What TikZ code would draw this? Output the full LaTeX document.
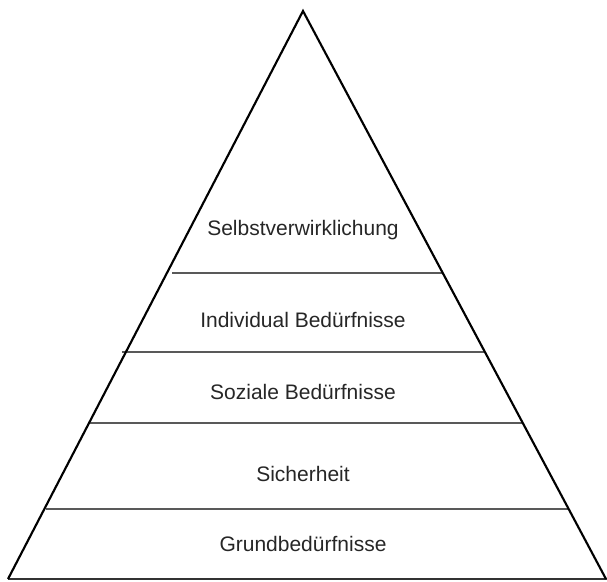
\documentclass[tikz,border=0pt]{standalone}
\usepackage{fontspec}
\setmainfont{Liberation Sans}
\begin{document}
\begin{tikzpicture}[x=0.75pt,y=-0.75pt,
  side/.style={draw=black,line width=1.6pt,line join=miter},
  level/.style={draw=black!65,line width=1.9pt},
  lab/.style={anchor=base,inner sep=0pt,text=black!85,font=\fontsize{15.75}{19}\selectfont}]
\useasboundingbox (0,0) rectangle (607,582);
\coordinate (apex) at (303,11);
\coordinate (bl) at (8,579);
\coordinate (br) at (606,579);
\coordinate (be) at (607,579);
\coordinate (l1a) at (172,273); \coordinate (l1b) at (443,273);
\coordinate (l2a) at (122,352); \coordinate (l2b) at (485,352);
\coordinate (l3a) at (90,423);  \coordinate (l3b) at (523,423);
\coordinate (l4a) at (46,509);  \coordinate (l4b) at (568,509);
\draw[level] (l1a) -- (l1b);
\draw[level] (l2a) -- (l2b);
\draw[level] (l3a) -- (l3b);
\draw[level] (l4a) -- (l4b);
\draw[level,draw=black!80] (bl) -- (be);
\draw[side] (bl) -- (apex) -- (br);
\node[lab] (t1) at (303,235) {Selbstverwirklichung};
\node[lab] (t2) at (303,327) {Individual Bedürfnisse};
\node[lab] (t3) at (303,399) {Soziale Bedürfnisse};
\node[lab] (t4) at (303,481) {Sicherheit};
\node[lab] (t5) at (303,551) {Grundbedürfnisse};
\end{tikzpicture}
\end{document}
